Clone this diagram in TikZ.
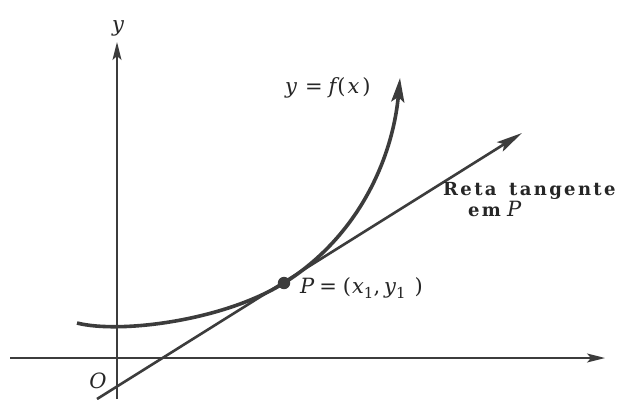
\documentclass[tikz,border=0pt]{standalone}
\usepackage{fontspec}
\setmainfont{DejaVu Serif}
\newfontfamily\retafont[LetterSpace=13]{DejaVu Serif Bold}
\newfontfamily\mitf{DejaVu Serif Italic}
\newfontfamily\mupf{DejaVu Serif}
\newcommand{\lowsub}[1]{\raisebox{-5pt}{\fontsize{15}{15}\selectfont\mupf #1}}
\usetikzlibrary{arrows.meta}
\definecolor{ink}{HTML}{3C3C3C}
\definecolor{txt}{HTML}{262626}
\tikzset{
  axis/.style={ink, line width=1.6pt, -{Stealth[length=18pt,width=9pt,inset=4pt]}},
  curve/.style={ink, line width=3.6pt, -{Stealth[length=24pt,width=13pt,inset=5pt]}},
  tangent/.style={ink, line width=2.6pt, -{Stealth[length=26pt,width=11pt,inset=5pt]}},
  lbl/.style={txt, inner sep=0pt, font=\fontsize{21}{21}\selectfont},
}
\begin{document}
\begin{tikzpicture}[x=1pt,y=-1pt]
\useasboundingbox[fill=white] (0,0) rectangle (617,399);
% axes
\coordinate (xs) at (10,358);
\coordinate (xe) at (605,358);
\coordinate (ys) at (117,399);
\coordinate (ye) at (117,42);
\draw[axis] (xs) -- (xe);
\draw[axis] (ys) -- (ye);
% tangent line
\coordinate (ts) at (97,399);
\coordinate (P) at (284,283);
\coordinate (te) at (522,133);
\draw[tangent] (ts) -- (te);
% curve
\coordinate (cs) at (77,323);
\coordinate (ce) at (400,78);
\draw[curve] (cs) .. controls (120,334) and (224,320.6) .. (P)
                  .. controls (359,236) and (392.6,157.7) .. (ce);
% point P
\fill[ink] (P) circle (6.2);
% labels
\node[lbl, anchor=center] (ylab) at (118,28) {\mitf y};
\node[lbl, anchor=center] (olab) at (98,381) {\mitf O};
\node[lbl, anchor=base west] (flab) at (285,93)
  {\mitf y\hspace{8pt}\mupf=\hspace{6pt}\mitf f\kern1pt\mupf(\kern2pt\mitf x\kern3pt\mupf)};
\node[lbl, anchor=base west] (plab) at (300,293)
  {\mitf P\hspace{5pt}\mupf=\hspace{6pt}(\kern1pt\mitf x\lowsub{1}\mupf,\hspace{4pt}\mitf y\lowsub{1}\hspace{9pt}\mupf)};
\node[lbl, anchor=base west, align=left, font=\fontsize{18}{18}\selectfont] (rlab) at (443,216)
  {\retafont Reta\hspace{4pt} tangente\\[0pt]\hspace{25pt}\retafont em\hspace{6pt}\fontsize{21}{21}\selectfont\mitf P};
\end{tikzpicture}
\end{document}
